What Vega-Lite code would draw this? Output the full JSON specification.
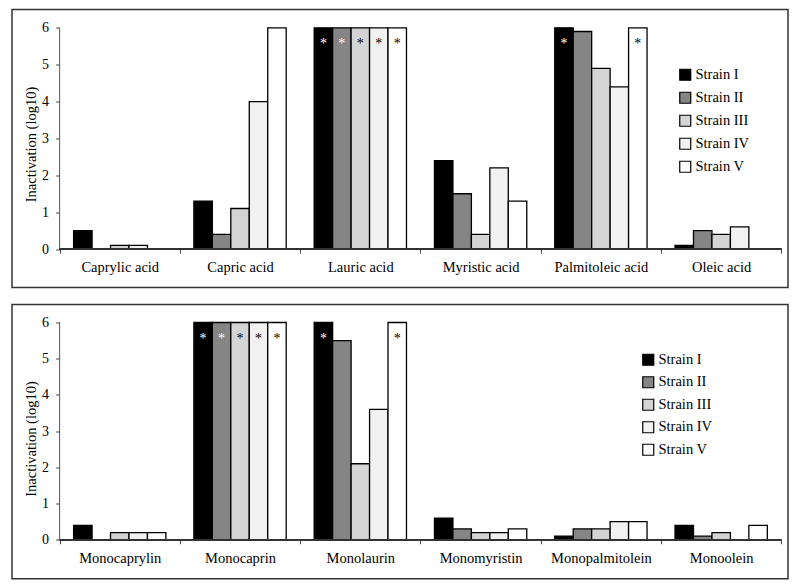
{
  "$schema": "https://vega.github.io/schema/vega-lite/v6.json",
  "background": "white",
  "padding": {"left": 11, "top": 8.5, "right": 0, "bottom": 0},
  "spacing": 15,
  "datasets": {
    "fa": [
      {"compound": "Caprylic acid", "strain": "Strain I", "value": 0.5, "star": false},
      {"compound": "Caprylic acid", "strain": "Strain II", "value": 0, "star": false},
      {"compound": "Caprylic acid", "strain": "Strain III", "value": 0.1, "star": false},
      {"compound": "Caprylic acid", "strain": "Strain IV", "value": 0.1, "star": false},
      {"compound": "Caprylic acid", "strain": "Strain V", "value": 0, "star": false},
      {"compound": "Capric acid", "strain": "Strain I", "value": 1.3, "star": false},
      {"compound": "Capric acid", "strain": "Strain II", "value": 0.4, "star": false},
      {"compound": "Capric acid", "strain": "Strain III", "value": 1.1, "star": false},
      {"compound": "Capric acid", "strain": "Strain IV", "value": 4.0, "star": false},
      {"compound": "Capric acid", "strain": "Strain V", "value": 6.0, "star": false},
      {"compound": "Lauric acid", "strain": "Strain I", "value": 6, "star": true},
      {"compound": "Lauric acid", "strain": "Strain II", "value": 6, "star": true},
      {"compound": "Lauric acid", "strain": "Strain III", "value": 6, "star": true},
      {"compound": "Lauric acid", "strain": "Strain IV", "value": 6, "star": true},
      {"compound": "Lauric acid", "strain": "Strain V", "value": 6, "star": true},
      {"compound": "Myristic acid", "strain": "Strain I", "value": 2.4, "star": false},
      {"compound": "Myristic acid", "strain": "Strain II", "value": 1.5, "star": false},
      {"compound": "Myristic acid", "strain": "Strain III", "value": 0.4, "star": false},
      {"compound": "Myristic acid", "strain": "Strain IV", "value": 2.2, "star": false},
      {"compound": "Myristic acid", "strain": "Strain V", "value": 1.3, "star": false},
      {"compound": "Palmitoleic acid", "strain": "Strain I", "value": 6, "star": true},
      {"compound": "Palmitoleic acid", "strain": "Strain II", "value": 5.9, "star": false},
      {"compound": "Palmitoleic acid", "strain": "Strain III", "value": 4.9, "star": false},
      {"compound": "Palmitoleic acid", "strain": "Strain IV", "value": 4.4, "star": false},
      {"compound": "Palmitoleic acid", "strain": "Strain V", "value": 6, "star": true},
      {"compound": "Oleic acid", "strain": "Strain I", "value": 0.1, "star": false},
      {"compound": "Oleic acid", "strain": "Strain II", "value": 0.5, "star": false},
      {"compound": "Oleic acid", "strain": "Strain III", "value": 0.4, "star": false},
      {"compound": "Oleic acid", "strain": "Strain IV", "value": 0.6, "star": false},
      {"compound": "Oleic acid", "strain": "Strain V", "value": 0, "star": false}
    ],
    "mg": [
      {"compound": "Monocaprylin", "strain": "Strain I", "value": 0.4, "star": false},
      {"compound": "Monocaprylin", "strain": "Strain II", "value": 0, "star": false},
      {"compound": "Monocaprylin", "strain": "Strain III", "value": 0.2, "star": false},
      {"compound": "Monocaprylin", "strain": "Strain IV", "value": 0.2, "star": false},
      {"compound": "Monocaprylin", "strain": "Strain V", "value": 0.2, "star": false},
      {"compound": "Monocaprin", "strain": "Strain I", "value": 6, "star": true},
      {"compound": "Monocaprin", "strain": "Strain II", "value": 6, "star": true},
      {"compound": "Monocaprin", "strain": "Strain III", "value": 6, "star": true},
      {"compound": "Monocaprin", "strain": "Strain IV", "value": 6, "star": true},
      {"compound": "Monocaprin", "strain": "Strain V", "value": 6, "star": true},
      {"compound": "Monolaurin", "strain": "Strain I", "value": 6, "star": true},
      {"compound": "Monolaurin", "strain": "Strain II", "value": 5.5, "star": false},
      {"compound": "Monolaurin", "strain": "Strain III", "value": 2.1, "star": false},
      {"compound": "Monolaurin", "strain": "Strain IV", "value": 3.6, "star": false},
      {"compound": "Monolaurin", "strain": "Strain V", "value": 6, "star": true},
      {"compound": "Monomyristin", "strain": "Strain I", "value": 0.6, "star": false},
      {"compound": "Monomyristin", "strain": "Strain II", "value": 0.3, "star": false},
      {"compound": "Monomyristin", "strain": "Strain III", "value": 0.2, "star": false},
      {"compound": "Monomyristin", "strain": "Strain IV", "value": 0.2, "star": false},
      {"compound": "Monomyristin", "strain": "Strain V", "value": 0.3, "star": false},
      {"compound": "Monopalmitolein", "strain": "Strain I", "value": 0.1, "star": false},
      {"compound": "Monopalmitolein", "strain": "Strain II", "value": 0.3, "star": false},
      {"compound": "Monopalmitolein", "strain": "Strain III", "value": 0.3, "star": false},
      {"compound": "Monopalmitolein", "strain": "Strain IV", "value": 0.5, "star": false},
      {"compound": "Monopalmitolein", "strain": "Strain V", "value": 0.5, "star": false},
      {"compound": "Monoolein", "strain": "Strain I", "value": 0.4, "star": false},
      {"compound": "Monoolein", "strain": "Strain II", "value": 0.1, "star": false},
      {"compound": "Monoolein", "strain": "Strain III", "value": 0.2, "star": false},
      {"compound": "Monoolein", "strain": "Strain IV", "value": 0, "star": false},
      {"compound": "Monoolein", "strain": "Strain V", "value": 0.4, "star": false}
    ]
  },
  "vconcat": [
    {
      "width": 776,
      "height": 278,
      "data": {"name": "fa"},
      "layer": [
        {
          "mark": {"type": "bar", "stroke": "black", "strokeWidth": 1.3},
          "encoding": {
            "x": {
              "field": "compound", "type": "nominal", "title": null,
              "scale": {"domain": ["Caprylic acid", "Capric acid", "Lauric acid", "Myristic acid", "Palmitoleic acid", "Oleic acid"], "paddingInner": 0, "paddingOuter": 0.2257, "align": 0.877},
              "axis": {"title": null, "domain": false, "offset": -38.4, "tickBand": "extent", "tickSize": 4, "tickColor": "#444444", "labelAngle": 0, "labelFont": "Liberation Serif", "labelFontSize": 14.5, "labelColor": "black", "labelPadding": 7, "labelOverlap": false}
            },
            "xOffset": {
              "field": "strain", "type": "nominal",
              "scale": {"domain": ["Strain I", "Strain II", "Strain III", "Strain IV", "Strain V"], "paddingInner": 0, "paddingOuter": 0.758}
            },
            "y": {
              "field": "value", "type": "quantitative", "stack": null, "title": "Inactivation (log10)",
              "scale": {"domain": [-1.043, 6.497], "nice": false, "zero": false},
              "axis": {"title": "Inactivation (log10)", "values": [0, 1, 2, 3, 4, 5, 6], "domain": false, "grid": false, "offset": -47.6, "tickSize": 4, "tickColor": "#444444", "labelFont": "Liberation Serif", "labelFontSize": 14, "labelColor": "black", "labelPadding": 7, "titleFont": "Liberation Serif", "titleFontSize": 14.5, "titleFontWeight": "normal", "titleColor": "black", "titlePadding": 3, "titleY": 134.5}
            },
            "y2": {"datum": 0},
            "fill": {
              "field": "strain", "type": "nominal",
              "scale": {"domain": ["Strain I", "Strain II", "Strain III", "Strain IV", "Strain V"], "range": ["#000000", "#858585", "#d4d4d4", "#f1f1f1", "#ffffff"]},
              "legend": {"title": null, "orient": "none", "legendX": 666, "legendY": 58, "padding": 0, "symbolType": "square", "symbolSize": 121, "symbolStrokeColor": "black", "symbolStrokeWidth": 1.2, "labelFont": "Liberation Serif", "labelFontSize": 14.5, "labelColor": "black", "rowPadding": 6, "labelOffset": 3}
            }
          }
        },
        {
          "mark": {"type": "text", "text": "*", "font": "Liberation Serif", "fontSize": 14, "baseline": "middle", "fill": "white"},
          "transform": [{"filter": "datum.star && (datum.strain == 'Strain I' || datum.strain == 'Strain II')"}],
          "encoding": {
            "x": {"field": "compound", "type": "nominal", "title": null},
            "xOffset": {"field": "strain", "type": "nominal"},
            "y": {"datum": 5.55, "title": "Inactivation (log10)"}
          }
        },
        {
          "mark": {"type": "text", "text": "*", "font": "Liberation Serif", "fontSize": 14, "baseline": "middle", "fill": "black"},
          "transform": [{"filter": "datum.star && datum.strain != 'Strain I' && datum.strain != 'Strain II'"}],
          "encoding": {
            "x": {"field": "compound", "type": "nominal", "title": null},
            "xOffset": {"field": "strain", "type": "nominal"},
            "y": {"datum": 5.55, "title": "Inactivation (log10)"}
          }
        },
        {
          "mark": {"type": "bar", "fill": "transparent", "stroke": "#333333", "strokeWidth": 1},
          "encoding": {
            "x": {"field": "compound", "type": "nominal", "title": null},
            "y": {"datum": 0, "title": "Inactivation (log10)"},
            "y2": {"datum": 0}
          }
        },
        {
          "data": {"values": [{}]},
          "mark": {"type": "rule", "color": "#555555", "strokeWidth": 1},
          "encoding": {
            "x": {"datum": "Caprylic acid", "type": "nominal", "bandPosition": 0, "title": null},
            "y": {"datum": 0, "title": "Inactivation (log10)"},
            "y2": {"datum": 6}
          }
        }
      ]
    },
    {
      "width": 776,
      "height": 274.3,
      "data": {"name": "mg"},
      "layer": [
        {
          "mark": {"type": "bar", "stroke": "black", "strokeWidth": 1.3},
          "encoding": {
            "x": {
              "field": "compound", "type": "nominal", "title": null,
              "scale": {"domain": ["Monocaprylin", "Monocaprin", "Monolaurin", "Monomyristin", "Monopalmitolein", "Monoolein"], "paddingInner": 0, "paddingOuter": 0.2257, "align": 0.877},
              "axis": {"title": null, "domain": false, "offset": -39, "tickBand": "extent", "tickSize": 4, "tickColor": "#444444", "labelAngle": 0, "labelFont": "Liberation Serif", "labelFontSize": 14.5, "labelColor": "black", "labelPadding": 8, "labelOverlap": false}
            },
            "xOffset": {
              "field": "strain", "type": "nominal",
              "scale": {"domain": ["Strain I", "Strain II", "Strain III", "Strain IV", "Strain V"], "paddingInner": 0, "paddingOuter": 0.758}
            },
            "y": {
              "field": "value", "type": "quantitative", "stack": null, "title": "Inactivation (log10)",
              "scale": {"domain": [-1.077, 6.497], "nice": false, "zero": false},
              "axis": {"title": "Inactivation (log10)", "values": [0, 1, 2, 3, 4, 5, 6], "domain": false, "grid": false, "offset": -47.6, "tickSize": 4, "tickColor": "#444444", "labelFont": "Liberation Serif", "labelFontSize": 14, "labelColor": "black", "labelPadding": 7, "titleFont": "Liberation Serif", "titleFontSize": 14.5, "titleFontWeight": "normal", "titleColor": "black", "titlePadding": 3, "titleY": 134}
            },
            "y2": {"datum": 0},
            "fill": {
              "field": "strain", "type": "nominal",
              "scale": {"domain": ["Strain I", "Strain II", "Strain III", "Strain IV", "Strain V"], "range": ["#000000", "#858585", "#d4d4d4", "#f1f1f1", "#ffffff"]},
              "legend": {"title": null, "orient": "none", "legendX": 629, "legendY": 48, "padding": 0, "symbolType": "square", "symbolSize": 121, "symbolStrokeColor": "black", "symbolStrokeWidth": 1.2, "labelFont": "Liberation Serif", "labelFontSize": 14.5, "labelColor": "black", "rowPadding": 5.5, "labelOffset": 3}
            }
          }
        },
        {
          "mark": {"type": "text", "text": "*", "font": "Liberation Serif", "fontSize": 14, "baseline": "middle", "fill": "white"},
          "transform": [{"filter": "datum.star && (datum.strain == 'Strain I' || datum.strain == 'Strain II')"}],
          "encoding": {
            "x": {"field": "compound", "type": "nominal", "title": null},
            "xOffset": {"field": "strain", "type": "nominal"},
            "y": {"datum": 5.55, "title": "Inactivation (log10)"}
          }
        },
        {
          "mark": {"type": "text", "text": "*", "font": "Liberation Serif", "fontSize": 14, "baseline": "middle", "fill": "black"},
          "transform": [{"filter": "datum.star && datum.strain != 'Strain I' && datum.strain != 'Strain II'"}],
          "encoding": {
            "x": {"field": "compound", "type": "nominal", "title": null},
            "xOffset": {"field": "strain", "type": "nominal"},
            "y": {"datum": 5.55, "title": "Inactivation (log10)"}
          }
        },
        {
          "mark": {"type": "bar", "fill": "transparent", "stroke": "#333333", "strokeWidth": 1},
          "encoding": {
            "x": {"field": "compound", "type": "nominal", "title": null},
            "y": {"datum": 0, "title": "Inactivation (log10)"},
            "y2": {"datum": 0}
          }
        },
        {
          "data": {"values": [{}]},
          "mark": {"type": "rule", "color": "#555555", "strokeWidth": 1},
          "encoding": {
            "x": {"datum": "Monocaprylin", "type": "nominal", "bandPosition": 0, "title": null},
            "y": {"datum": 0, "title": "Inactivation (log10)"},
            "y2": {"datum": 6}
          }
        }
      ]
    }
  ],
  "resolve": {"scale": {"fill": "independent", "x": "independent", "y": "independent"}, "legend": {"fill": "independent"}},
  "config": {
    "font": "Liberation Serif",
    "view": {"stroke": "#333333", "strokeWidth": 1.5}
  }
}
